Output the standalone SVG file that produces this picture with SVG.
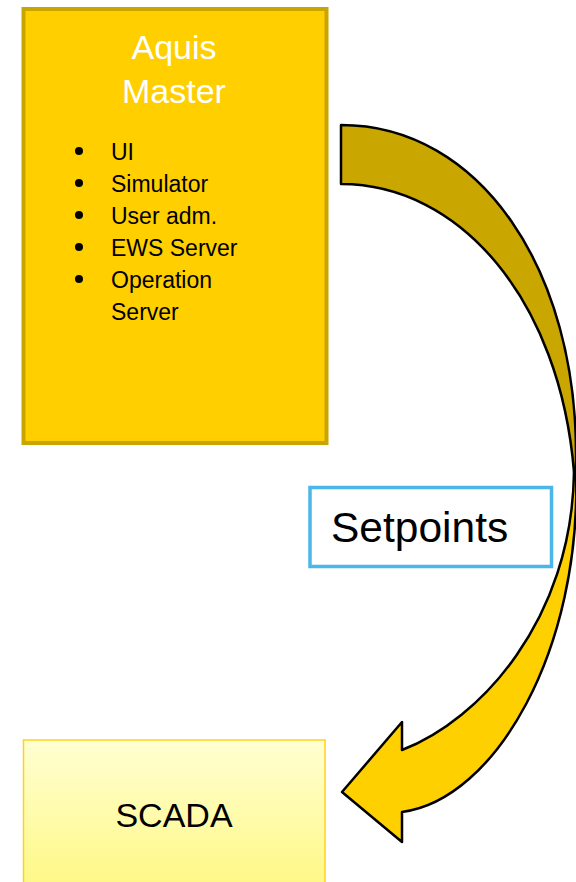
<svg xmlns="http://www.w3.org/2000/svg" width="576" height="882" viewBox="0 0 576 882">
<defs>
<linearGradient id="scadaFill" x1="0" y1="0" x2="0" y2="1">
<stop offset="0" stop-color="#FFFFD2"/>
<stop offset="1" stop-color="#FFF884"/>
</linearGradient>
<style>
text{font-family:"Liberation Sans","Noto Sans",Arial,sans-serif;}
.item{font-size:23px;fill:#000;}
.title{font-size:34px;fill:#fff;text-anchor:middle;}
.arrow{stroke:#000;stroke-width:2.5;stroke-linejoin:round;}
</style>
</defs>
<rect width="576" height="882" fill="#fff"/>
<g id="aquis-master">
<rect x="23.5" y="9" width="303" height="434" fill="#FFCF00" stroke="#C9A500" stroke-width="4"/>
<text class="title" x="174" y="59">Aquis</text>
<text class="title" x="174" y="103">Master</text>
<g fill="#000">
<circle cx="79" cy="151" r="4"/>
<circle cx="79" cy="183" r="4"/>
<circle cx="79" cy="215" r="4"/>
<circle cx="79" cy="247" r="4"/>
<circle cx="79" cy="279" r="4"/>
</g>
<text class="item" x="111" y="160">UI</text>
<text class="item" x="111" y="192">Simulator</text>
<text class="item" x="111" y="224">User adm.</text>
<text class="item" x="111" y="256">EWS Server</text>
<text class="item" x="111" y="288">Operation</text>
<text class="item" x="111" y="320">Server</text>
</g>
<g id="connectors">
<path class="arrow" fill="#C9A600" d="M341,125 C480,125 578,270 576,460 L576,470 L574,472 C560,300 460,184 341,184 Z"/>
<path class="arrow" fill="#FFD000" d="M576,470 C582,650 495,800 402,812 L402,842 L342,792 L402,722 L402,750 C480,720 572,620 574,472 Z"/>
</g>
<g id="setpoints">
<rect x="310" y="487.5" width="241.5" height="79" fill="#fff" stroke="#4BB7E8" stroke-width="3.5"/>
<text x="331" y="542" font-size="42.5" fill="#000">Setpoints</text>
</g>
<g id="scada">
<rect x="23.5" y="740" width="301.5" height="150" fill="url(#scadaFill)" stroke="#FFD21F" stroke-width="1.5"/>
<text x="174" y="827" font-size="34" fill="#000" text-anchor="middle">SCADA</text>
</g>
</svg>
